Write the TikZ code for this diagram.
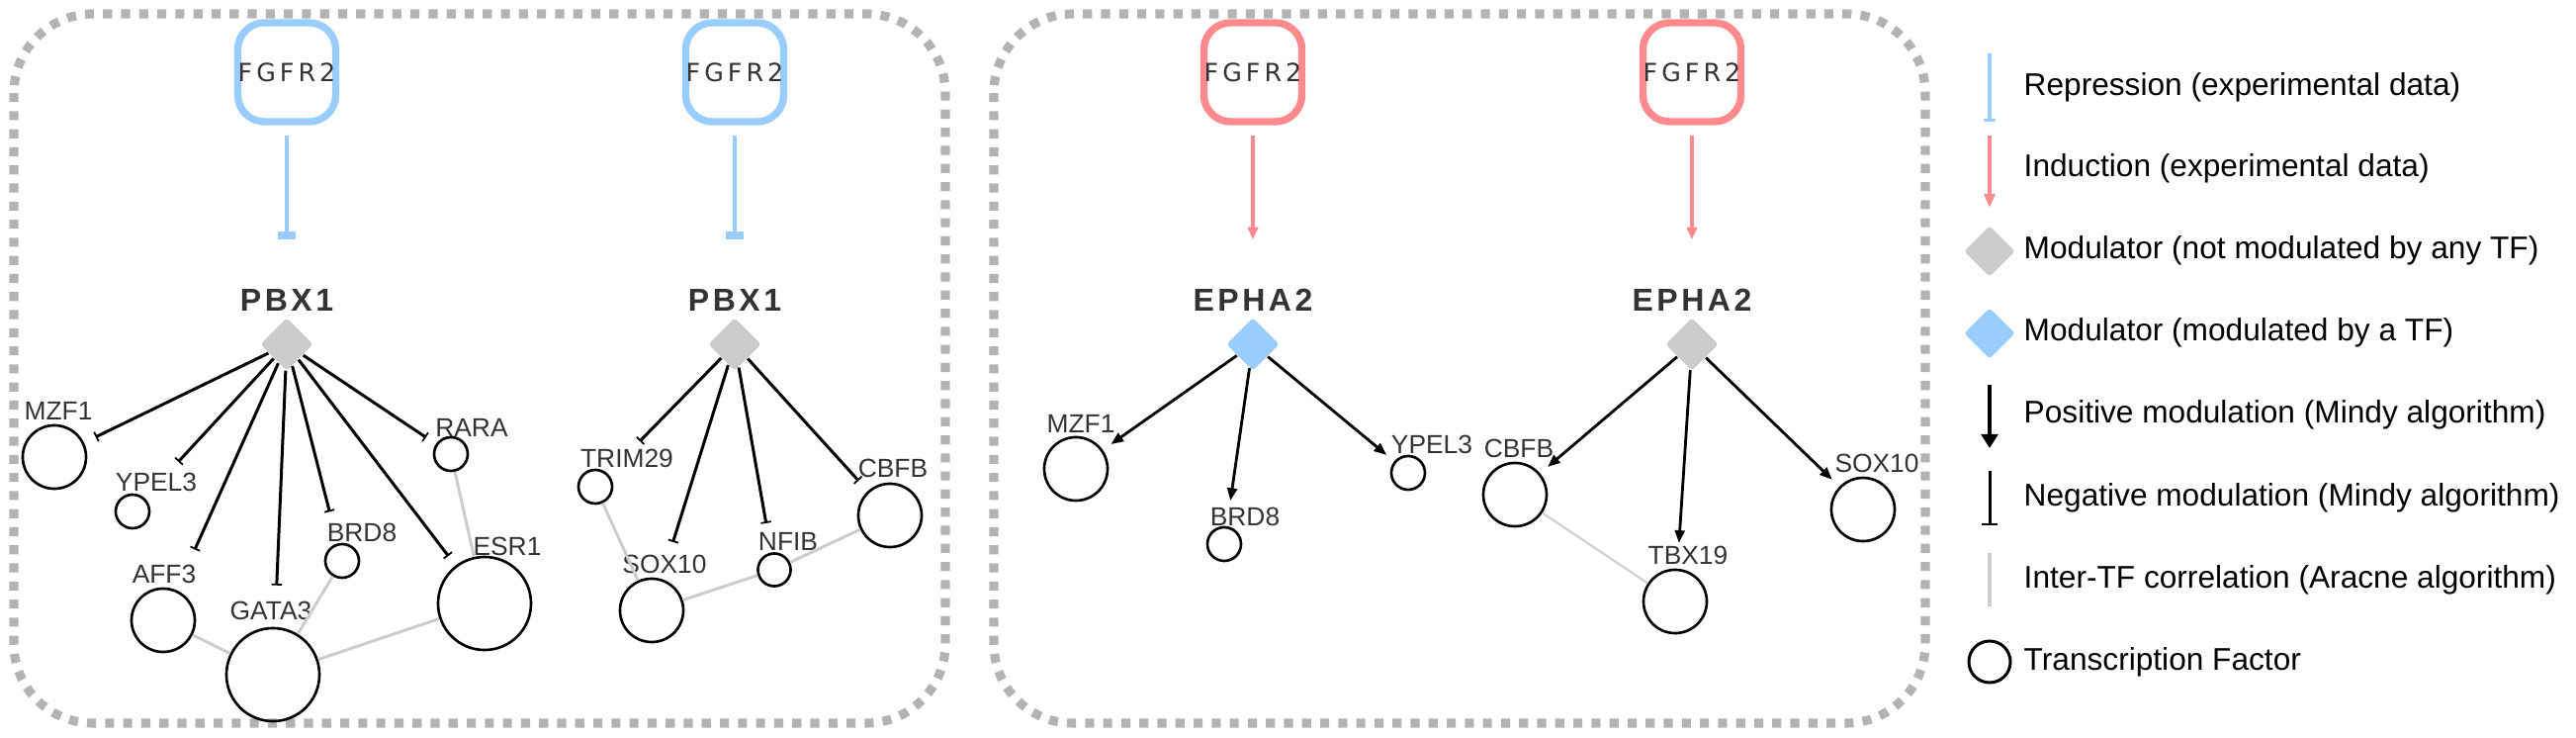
\documentclass[tikz,border=0pt]{standalone}
\usepackage{fontspec}
\setmainfont{Liberation Sans}
\newfontfamily\fgfont{DejaVu Sans}
\usetikzlibrary{shapes.geometric,arrows.meta}
\definecolor{repblue}{HTML}{99CCFF}
\definecolor{indred}{HTML}{FF8A8E}
\definecolor{modgray}{HTML}{CCCCCC}
\definecolor{boxgray}{HTML}{B3B3B3}
\definecolor{txtgray}{HTML}{333333}
\begin{document}
\begin{tikzpicture}[x=0.01cm, y=-0.01cm,
  panel/.style={draw=boxgray, line width=2.6pt, dash pattern=on 2.6pt off 2.6pt, rounded corners=0.8cm},
  fgbox/.style={draw=#1, line width=2.1pt, rounded corners=0.27cm, minimum width=0.99cm, minimum height=1cm, inner sep=0pt, text=txtgray, font=\fgfont\fontsize{7.2}{7.2}\selectfont\addfontfeature{LetterSpace=16}},
  modlbl/.style={inner sep=0pt, text=txtgray, font=\fontsize{9.1}{9.1}\selectfont\bfseries\addfontfeature{LetterSpace=11}},
  mod/.style 2 args={diamond, fill=#1, inner sep=0pt, minimum width=#2, minimum height=#2, rounded corners=1pt},
  tf/.style={circle, draw, line width=0.75pt, inner sep=0pt, minimum size=#1},
  lbl/.style={inner sep=0pt, text=txtgray, font=\fontsize{7.5}{7.5}\selectfont},
  rep/.style={repblue, line width=1.35pt, -{Bar[width=5.1pt,line width=2.3pt]}},
  ind/.style={indred, line width=0.9pt, -{Triangle[length=3.6pt,width=3pt]}},
  negmod/.style={line width=0.85pt, -{Bar[width=3pt,line width=0.5pt]}},
  posmod/.style={line width=0.8pt, -{Triangle[length=3.6pt,width=2.8pt]}},
  corr/.style={modgray, line width=0.85pt},
  legtxt/.style={anchor=base west, inner sep=0pt, font=\fontsize{9}{9}\selectfont}]
\useasboundingbox (0,0) rectangle (2605,746);
%panels
\draw[panel] (14,14) rectangle (956,731);
\draw[panel] (1005,14) rectangle (1947,731);
%modulators
\foreach \n/\x/\t/\c/\f in {a/290/PBX1/modgray/repblue, b/743/PBX1/modgray/repblue,
  c/1267/EPHA2/repblue/indred, d/1711/EPHA2/modgray/indred}{
  \node[fgbox=\f] (fg\n) at (\x,73) {FGFR2};
  \node[modlbl] (lab\n) at (\x,303) {\t};
  \node[mod={\c}{0.54cm}] (mod\n) at (\x,348) {};
}
%transcription factors
\node[tf=0.64cm] (aMZF1) at (55,462) {};   \node[lbl] (aMZF1l) at (59,415) {MZF1};
\node[tf=0.34cm] (aYPEL3) at (134,517) {}; \node[lbl] (aYPEL3l) at (158,487) {YPEL3};
\node[tf=0.64cm] (aAFF3) at (165,627) {};  \node[lbl] (aAFF3l) at (166,580) {AFF3};
\node[tf=0.94cm] (aGATA3) at (276,682) {}; \node[lbl] (aGATA3l) at (274,617) {GATA3};
\node[tf=0.34cm] (aBRD8) at (346,567) {};  \node[lbl] (aBRD8l) at (366,538) {BRD8};
\node[tf=0.94cm] (aESR1) at (490,610) {};  \node[lbl] (aESR1l) at (513,552) {ESR1};
\node[tf=0.34cm] (aRARA) at (456,459) {};  \node[lbl] (aRARAl) at (477,432) {RARA};

\node[tf=0.34cm] (bTRIM29) at (602,492) {}; \node[lbl] (bTRIM29l) at (634,463) {TRIM29};
\node[tf=0.64cm] (bSOX10) at (659,617) {};  \node[lbl] (bSOX10l) at (672,570) {SOX10};
\node[tf=0.33cm] (bNFIB) at (783,576) {};   \node[lbl] (bNFIBl) at (797,547) {NFIB};
\node[tf=0.64cm] (bCBFB) at (900,521) {};   \node[lbl] (bCBFBl) at (903,473) {CBFB};

\node[tf=0.64cm] (cMZF1) at (1088,474) {};  \node[lbl] (cMZF1l) at (1093,428) {MZF1};
\node[tf=0.34cm] (cBRD8) at (1238,550) {};  \node[lbl] (cBRD8l) at (1259,522) {BRD8};
\node[tf=0.34cm] (cYPEL3) at (1424,478) {}; \node[lbl] (cYPEL3l) at (1448,449) {YPEL3};

\node[tf=0.64cm] (dCBFB) at (1532,500) {};  \node[lbl] (dCBFBl) at (1536,453) {CBFB};
\node[tf=0.64cm] (dTBX19) at (1694,608) {}; \node[lbl] (dTBX19l) at (1707,561) {TBX19};
\node[tf=0.64cm] (dSOX10) at (1884,515) {}; \node[lbl] (dSOX10l) at (1898,468) {SOX10};
%experimental data
\foreach \n in {a,b}
\draw[rep, shorten <=0.1cm, shorten >=0.78cm] (fg\n) -- (mod\n);
\foreach \n in {c,d}
\draw[ind, shorten <=0.1cm, shorten >=0.78cm] (fg\n) -- (mod\n);
%mindy
\foreach \t/\s in {aMZF1/0.13, aYPEL3/0.5, aAFF3/0.45, aGATA3/0.42, aBRD8/0.33, aESR1/0.12, aRARA/0.12}
\draw[negmod, shorten >=\s cm] (moda) -- (\t);
\foreach \t/\s in {bTRIM29/0.46, bSOX10/0.39, bNFIB/0.3, bCBFB/0.14}
\draw[negmod, shorten >=\s cm] (modb) -- (\t);
\foreach \t/\s in {cMZF1/0.1, cBRD8/0.26, cYPEL3/0.1}
\draw[posmod, shorten >=\s cm] (modc) -- (\t);
\foreach \t/\s in {dCBFB/0.1, dTBX19/0.26, dSOX10/0.1}
\draw[posmod, shorten >=\s cm] (modd) -- (\t);
%aracne
\draw[corr] (aAFF3) -- (aGATA3);
\draw[corr] (aBRD8) -- (aGATA3);
\draw[corr] (aGATA3) -- (aESR1);
\draw[corr] (aRARA) -- (aESR1);
\draw[corr] (bTRIM29) -- (bSOX10);
\draw[corr] (bSOX10) -- (bNFIB);
\draw[corr] (bNFIB) -- (bCBFB);
\draw[corr, line width=0.55pt] (dCBFB) -- (dTBX19);
%legend
\coordinate (k1a) at (2012,54);  \coordinate (k1b) at (2012,123);
\draw[repblue, line width=1.1pt, -{Bar[width=3.3pt,line width=0.95pt]}] (k1a) -- (k1b);
\node[legtxt] (t1) at (2046,97) {Repression (experimental data)};
\coordinate (k2a) at (2012,137); \coordinate (k2b) at (2012,210);
\draw[indred, line width=1.1pt, -{Triangle[length=4pt,width=3.1pt]}] (k2a) -- (k2b);
\node[legtxt] (t2) at (2046,179) {Induction (experimental data)};
\node[mod={modgray}{0.52cm}] (k3) at (2012,254) {};
\node[legtxt] (t3) at (2046,262) {Modulator (not modulated by any TF)};
\node[mod={repblue}{0.52cm}] (k4) at (2012,337) {};
\node[legtxt] (t4) at (2046,345) {Modulator (modulated by a TF)};
\coordinate (k5a) at (2012,389); \coordinate (k5b) at (2012,453);
\draw[line width=0.95pt, -{Triangle[length=4pt,width=4.8pt]}] (k5a) -- (k5b);
\node[legtxt] (t5) at (2046,428) {Positive modulation (Mindy algorithm)};
\coordinate (k6a) at (2012,476); \coordinate (k6b) at (2012,531);
\draw[line width=0.85pt, -{Bar[width=4.8pt,line width=0.6pt]}] (k6a) -- (k6b);
\node[legtxt] (t6) at (2046,512) {Negative modulation (Mindy algorithm)};
\coordinate (k7a) at (2012,559); \coordinate (k7b) at (2012,613);
\draw[modgray, line width=1.4pt] (k7a) -- (k7b);
\node[legtxt] (t7) at (2046,595) {Inter-TF correlation (Aracne algorithm)};
\node[tf=0.42cm, line width=0.85pt] (k8) at (2012,669) {};
\node[legtxt] (t8) at (2046,678) {Transcription Factor};
\end{tikzpicture}
\end{document}
